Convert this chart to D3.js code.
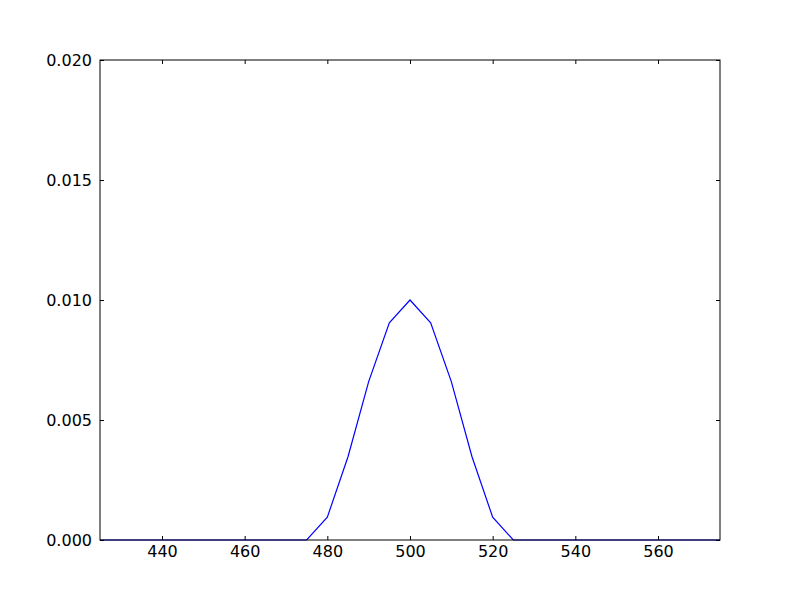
<!DOCTYPE html>
<html lang="en">
<head>
<meta charset="UTF-8">
<title>Distribution</title>
<script src="https://d3js.org/d3.v7.min.js"></script>
<style>
    body { margin: 0; background: #fff; }
    .tick text { font-family: "DejaVu Sans", sans-serif; font-size: 16px; fill: #000; }
</style>
</head>
<body>
<div id="chart"></div>
<script>
    // data
    const xValues = [425, 430, 435, 440, 445, 450, 455, 460, 465, 470, 475, 480, 485, 490, 495, 500,
                     505, 510, 515, 520, 525, 530, 535, 540, 545, 550, 555, 560, 565, 570, 575];
    const yValues = [0, 0, 0, 0, 0, 0, 0, 0, 0, 0, 0, 0.00095, 0.00347, 0.0066, 0.00905, 0.0100,
                     0.00905, 0.0066, 0.00347, 0.00095, 0, 0, 0, 0, 0, 0, 0, 0, 0, 0, 0];
    const xTicks = [440, 460, 480, 500, 520, 540, 560];
    const yTicks = [0, 0.005, 0.010, 0.015, 0.020];

    const width = 800, height = 600;
    const margin = { top: 60, right: 80, bottom: 60, left: 100 };
    const w = width - margin.left - margin.right;
    const h = height - margin.top - margin.bottom;

    const svg = d3.select("#chart").append("svg")
        .attr("width", width)
        .attr("height", height);

    const g = svg.append("g")
        .attr("transform", `translate(${margin.left},${margin.top})`);

    const x = d3.scaleLinear().domain([425, 575]).range([0, w]);
    const y = d3.scaleLinear().domain([0, 0.02]).range([h, 0]);

    const data = xValues.map((v, i) => ({ x: v, y: yValues[i] }));

    // the curve
    g.append("path")
        .datum(data)
        .attr("fill", "none")
        .attr("stroke", "#0000ff")
        .attr("stroke-width", 1.2)
        .attr("d", d3.line().x(d => x(d.x)).y(d => y(d.y)));

    // axes, ticks pointing inward
    const xAxisBottom = g.append("g").attr("transform", `translate(0,${h})`)
        .call(d3.axisBottom(x).tickValues(xTicks).tickSize(-4).tickPadding(6).tickFormat(d3.format("d")));
    const xAxisTop = g.append("g")
        .call(d3.axisTop(x).tickValues(xTicks).tickSize(-4).tickFormat(""));
    const yAxisLeft = g.append("g")
        .call(d3.axisLeft(y).tickValues(yTicks).tickSize(-4).tickPadding(8).tickFormat(d3.format(".3f")));
    const yAxisRight = g.append("g").attr("transform", `translate(${w},0)`)
        .call(d3.axisRight(y).tickValues(yTicks).tickSize(-4).tickFormat(""));

    [xAxisBottom, xAxisTop, yAxisLeft, yAxisRight].forEach(a => {
        a.select(".domain").remove();
        a.selectAll(".tick line").attr("stroke", "#000");
    });

    // frame
    g.append("rect")
        .attr("x", 0).attr("y", 0)
        .attr("width", w).attr("height", h)
        .attr("fill", "none")
        .attr("stroke", "#000")
        .attr("stroke-width", 1);
</script>
</body>
</html>
